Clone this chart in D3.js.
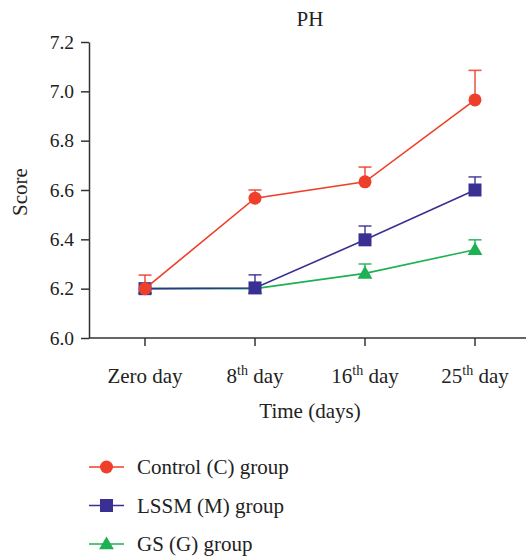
<!DOCTYPE html>
<html>
<head>
<meta charset="utf-8">
<title>PH</title>
<script src="https://d3js.org/d3.v7.min.js"></script>
<style>
    body { margin: 0; background: #fff; }
    svg { display: block; font-family: "Liberation Serif", "DejaVu Serif", serif; }
    .axis path, .axis line { stroke: #333; stroke-width: 1.5px; }
    .axis text { font-size: 19.5px; fill: #222; }
    .lbl { font-size: 21px; fill: #222; }
</style>
</head>
<body>
<script>
    var days = ["Zero day", "8th day", "16th day", "25th day"];
    var ordinal = ["", "8", "16", "25"];
    var groups = ["Control (C) group", "LSSM (M) group", "GS (G) group"];
    var controlMean = [6.20, 6.567, 6.633, 6.965];
    var controlErr = [0.055, 0.033, 0.06, 0.12];
    var lssmMean = [6.20, 6.203, 6.398, 6.60];
    var lssmErr = [0.0, 0.053, 0.056, 0.053];
    var gsMean = [6.20, 6.20, 6.262, 6.358];
    var gsErr = [0.0, 0.0, 0.038, 0.04];
    var yTicks = [6.0, 6.2, 6.4, 6.6, 6.8, 7.0, 7.2];

    var colors = ["#ee3f2a", "#3a2f93", "#1db154"];
    var series = [
        { name: groups[0], mean: controlMean, err: controlErr, shape: "circle" },
        { name: groups[1], mean: lssmMean, err: lssmErr, shape: "square" },
        { name: groups[2], mean: gsMean, err: gsErr, shape: "triangle" }
    ];

    var width = 527, height = 558;
    var svg = d3.select("body").append("svg")
        .attr("width", width)
        .attr("height", height);

    var x = d3.scalePoint().domain(days).range([145, 475]);
    var y = d3.scaleLinear().domain([6.0, 7.2]).range([338, 42]);

    // y axis
    svg.append("g")
        .attr("class", "axis")
        .attr("transform", "translate(89,0)")
        .call(d3.axisLeft(y).tickValues(yTicks).tickFormat(d3.format(".1f")).tickSize(8).tickPadding(7).tickSizeOuter(0))
        .attr("font-family", "Liberation Serif")
        .selectAll("text").style("font-family", "'Liberation Serif', serif");

    // x axis
    var xg = svg.append("g")
        .attr("class", "axis")
        .attr("transform", "translate(0,338)");
    xg.append("line").attr("x1", 89).attr("x2", 526).attr("y1", 0).attr("y2", 0);
    xg.selectAll(".tk").data(days).enter().append("line")
        .attr("x1", d => x(d)).attr("x2", d => x(d))
        .attr("y1", 0).attr("y2", 8);
    var xl = xg.selectAll(".xlbl").data(days).enter().append("text")
        .attr("x", d => x(d)).attr("y", 45)
        .attr("text-anchor", "middle")
        .style("font-size", "21px");
    xl.each(function (d, i) {
        var t = d3.select(this);
        if (ordinal[i] === "") {
            t.text(d);
        } else {
            t.append("tspan").text(ordinal[i]);
            t.append("tspan").text("th").style("font-size", "14px").attr("dy", "-8");
            t.append("tspan").text(" day").attr("dy", "8");
        }
    });

    // titles
    svg.append("text").attr("class", "lbl").attr("x", 310).attr("y", 26).attr("text-anchor", "middle").text("PH");
    svg.append("text").attr("class", "lbl").attr("transform", "translate(27,192) rotate(-90)")
        .attr("text-anchor", "middle").text("Score");
    svg.append("text").attr("class", "lbl").attr("x", 310).attr("y", 418).attr("text-anchor", "middle").text("Time (days)");

    function marker(g, shape, color, cx, cy) {
        if (shape === "circle") {
            g.append("circle").attr("cx", cx).attr("cy", cy).attr("r", 6.5).attr("fill", color);
        } else if (shape === "square") {
            g.append("rect").attr("x", cx - 6.5).attr("y", cy - 6.5).attr("width", 13).attr("height", 13).attr("fill", color);
        } else {
            g.append("path").attr("d", d3.symbol().type(d3.symbolTriangle).size(95)()).attr("transform", "translate(" + cx + "," + (cy + 1) + ")").attr("fill", color);
        }
    }

    // draw series: back to front so control sits on top
    var line = d3.line().x((d, i) => x(days[i])).y(d => y(d));
    for (var s = series.length - 1; s >= 0; s--) {
        var ser = series[s], col = colors[s];
        var g = svg.append("g");
        g.append("path").datum(ser.mean).attr("d", line)
            .attr("fill", "none").attr("stroke", col).attr("stroke-width", 1.6);
        ser.mean.forEach(function (m, i) {
            if (ser.err[i] > 0) {
                var top = y(m + ser.err[i]);
                g.append("line").attr("x1", x(days[i])).attr("x2", x(days[i]))
                    .attr("y1", y(m)).attr("y2", top)
                    .attr("stroke", col).attr("stroke-width", 1.6).attr("opacity", 0.85);
                g.append("line").attr("x1", x(days[i]) - 6.5).attr("x2", x(days[i]) + 6.5)
                    .attr("y1", top).attr("y2", top)
                    .attr("stroke", col).attr("stroke-width", 1.6).attr("opacity", 0.85);
            }
            marker(g, ser.shape, col, x(days[i]), y(m));
        });
    }

    // legend
    var lg = svg.append("g");
    series.forEach(function (ser, i) {
        var ly = 467 + i * 38.5;
        lg.append("line").attr("x1", 89).attr("x2", 124).attr("y1", ly).attr("y2", ly)
            .attr("stroke", colors[i]).attr("stroke-width", 1.6);
        marker(lg, ser.shape, colors[i], 106.5, ly);
        lg.append("text").attr("class", "lbl").attr("x", 137).attr("y", ly + 7).text(ser.name);
    });
</script>
</body>
</html>
